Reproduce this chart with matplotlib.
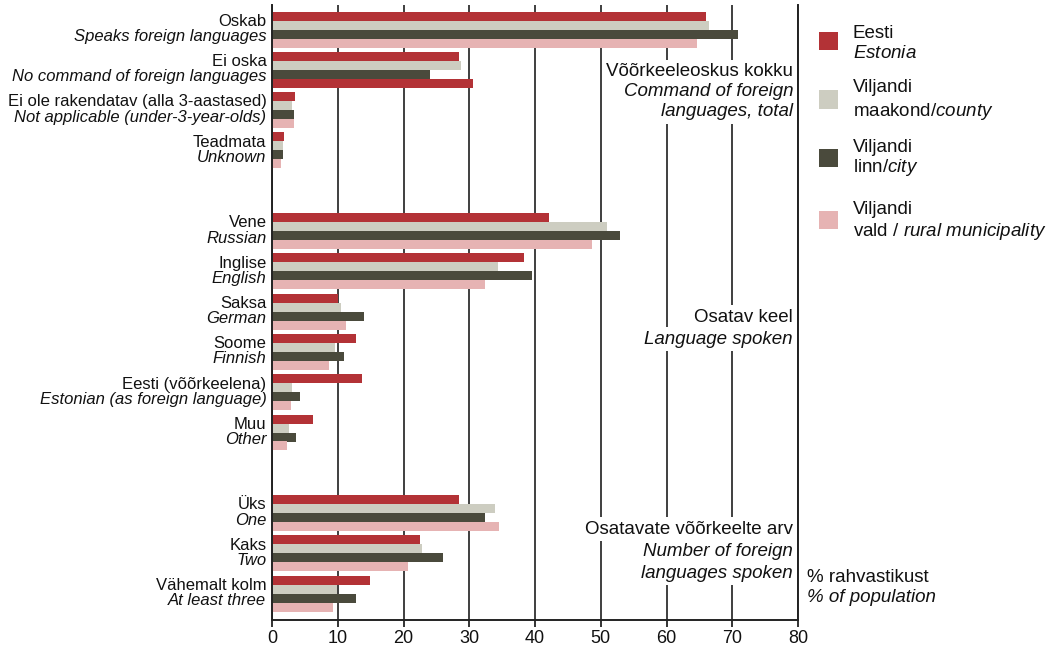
import matplotlib
matplotlib.use('Agg')
import matplotlib.pyplot as plt
from matplotlib.patches import Rectangle
import numpy as np

plt.rcParams['font.family'] = ['Liberation Sans', 'DejaVu Sans']
plt.rcParams['mathtext.fontset'] = 'custom'
plt.rcParams['mathtext.rm'] = 'Liberation Sans'
plt.rcParams['mathtext.it'] = 'Liberation Sans:italic'

# ---- data ----
cat_et = ['Oskab', 'Ei oska', 'Ei ole rakendatav (alla 3-aastased)', 'Teadmata',
          'Vene', 'Inglise', 'Saksa', 'Soome', 'Eesti (võõrkeelena)', 'Muu',
          'Üks', 'Kaks', 'Vähemalt kolm']
cat_en = ['Speaks foreign languages', 'No command of foreign languages',
          'Not applicable (under-3-year-olds)', 'Unknown',
          'Russian', 'English', 'German', 'Finnish', 'Estonian (as foreign language)', 'Other',
          'One', 'Two', 'At least three']
section_sizes = [4, 6, 3]
section_lines = [['Võõrkeeleoskus kokku', 'Command of foreign', 'languages, total'],
                 ['Osatav keel', 'Language spoken'],
                 ['Osatavate võõrkeelte arv', 'Number of foreign', 'languages spoken']]

estonia = [66.0, 28.4, 3.5, 1.9, 42.1, 38.3, 10.0, 12.8, 13.7, 6.3, 28.4, 22.5, 14.9]
county  = [66.5, 28.8, 3.1, 1.7, 50.9, 34.3, 10.5, 9.6, 3.1, 2.6, 33.9, 22.8, 9.9]
city    = [70.9, 24.0, 3.3, 1.7, 53.0, 39.5, 14.0, 11.0, 4.3, 3.6, 32.4, 26.0, 12.7]
rural   = [64.7, 30.5, 3.3, 1.3, 48.6, 32.4, 11.3, 8.7, 2.9, 2.3, 34.5, 20.7, 9.3]

series_l1 = ['Eesti', 'Viljandi', 'Viljandi', 'Viljandi']
series_l2 = ['$\\it{Estonia}$', 'maakond/$\\it{county}$', 'linn/$\\it{city}$',
             'vald / $\\it{rural\\ municipality}$']
xticks = list(range(0, 81, 10))

# ---- style ----
colors = ['#B33236', '#CDCDC1', '#4A4A3C', '#E6B3B3']
txt_col = '#111111'

W, H = 1046, 645
fig = plt.figure(figsize=(W / 100, H / 100), dpi=100)
ax_l, ax_r, ax_t, ax_b = 272, 798, 5, 620
ax = fig.add_axes([ax_l / W, 1 - ax_b / H, (ax_r - ax_l) / W, (ax_b - ax_t) / H])

# slot positions
pos = []
slot = 0
for size in section_sizes:
    pos.extend(range(slot, slot + size))
    slot += size + 1
pos = np.array(pos, dtype=float)

slot_px = 40.3
first_px = 29.5
ax.set_ylim((ax_b - first_px) / slot_px, (ax_t - first_px) / slot_px)
ax.set_xlim(0, 80)

h = 9.0 / slot_px
series = [estonia, county, city, rural]
for k, vals in enumerate(series):
    cols = [colors[k]] * len(vals)
    if k == 3:
        cols[1] = colors[0]  # as in the reference, this bar is drawn red
    ax.barh(pos + (k - 1.5) * h, vals, height=h, color=cols, linewidth=0, zorder=2)

ax.set_xticks(xticks)
ax.set_xticklabels([str(t) for t in xticks])
ax.xaxis.grid(True, color='#3f3f3f', linewidth=1.4, zorder=0)
ax.set_axisbelow(True)
ax.set_yticks([])
ax.spines['top'].set_visible(False)
for s in ['left', 'right', 'bottom']:
    ax.spines[s].set_linewidth(1.4)
    ax.spines[s].set_color('#222222')
    ax.spines[s].set_zorder(5)
ax.tick_params(axis='x', direction='out', length=5, width=1.4, color='#333333',
               labelsize=13, pad=2, labelcolor=txt_col)

# category labels
for p, t1, t2 in zip(pos, cat_et, cat_en):
    ax.annotate(t1, xy=(0, p), xycoords=('axes fraction', 'data'),
                xytext=(-4, 2.6), textcoords='offset points',
                ha='right', va='baseline', fontsize=12, color=txt_col)
    ax.annotate(t2, xy=(0, p), xycoords=('axes fraction', 'data'),
                xytext=(-4, -8.3), textcoords='offset points',
                ha='right', va='baseline', fontsize=12, style='italic', color=txt_col)

# section labels (right aligned inside plot, white background below the spines)
sec_px = [[72, 92, 112], [317, 339], [529, 551, 573]]
for ys, lines in zip(sec_px, section_lines):
    for j, (y, t) in enumerate(zip(ys, lines)):
        ax.text(793 / W, 1 - y / H, t, transform=fig.transFigure, ha='right', va='center',
                fontsize=13.5, style='normal' if j == 0 else 'italic', color=txt_col,
                zorder=3, clip_on=False,
                bbox=dict(facecolor='white', edgecolor='none', pad=2.5))

# legend
leg_rows = [(33, 53, 41), (88, 111, 99.5), (147, 168, 157.5), (210, 232, 220)]
for c, (y1, y2, yc), l1, l2 in zip(colors, leg_rows, series_l1, series_l2):
    fig.add_artist(Rectangle((819 / W, 1 - (yc + 9) / H), 19 / W, 18 / H,
                             transform=fig.transFigure, facecolor=c, edgecolor='none'))
    fig.text(853 / W, 1 - y1 / H, l1, ha='left', va='center', fontsize=13.5, color=txt_col)
    fig.text(853 / W, 1 - y2 / H, l2, ha='left', va='center', fontsize=13.5, color=txt_col)

fig.text(807 / W, 1 - 577 / H, '% rahvastikust', ha='left', va='center', fontsize=13.5, color=txt_col)
fig.text(807 / W, 1 - 598 / H, '% of population', ha='left', va='center', fontsize=13.5,
         style='italic', color=txt_col)

fig.savefig('out.png', dpi=100)
